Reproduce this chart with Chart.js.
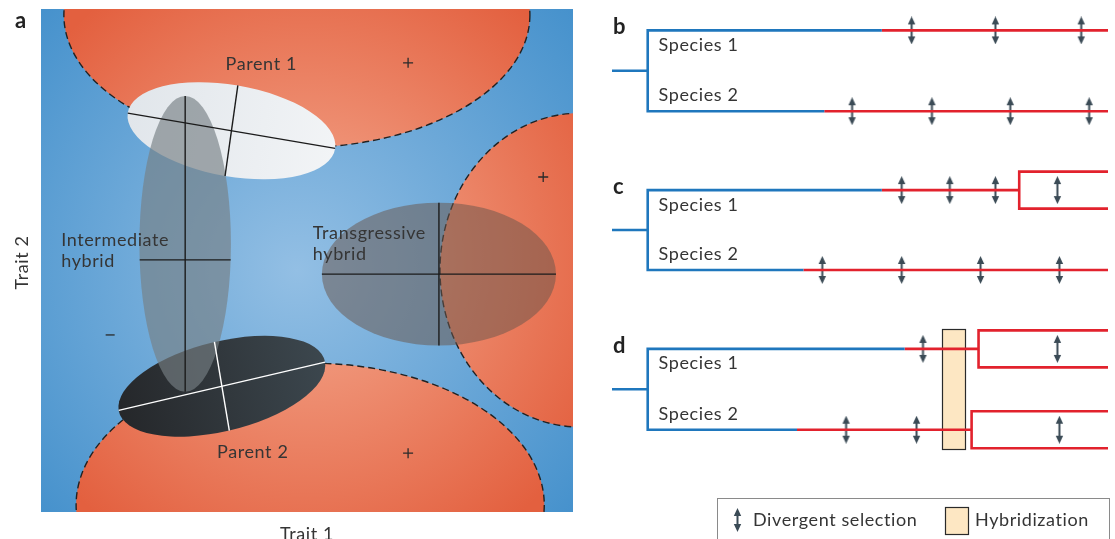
<!DOCTYPE html>
<html>
<head>
<meta charset="utf-8">
<script src="https://cdn.jsdelivr.net/npm/chart.js@4.4.1/dist/chart.umd.min.js"></script>
<style>
body { margin: 0; background: #fff; }
#wrap { position: relative; width: 1115px; height: 539px; overflow: hidden; }
#panelA { position: absolute; left: 0; top: 0; }
#panelTree { position: absolute; left: 590px; top: 0; }
</style>
</head>
<body>
<div id="wrap">
  <canvas id="panelA" width="590" height="539"></canvas>
  <canvas id="panelTree" width="525" height="539"></canvas>
</div>
<script>
// --- 1. panel a data (trait space, both axes 0-100) ---
const peakCentres = [[48.1, 98.8], [101.3, 48.1], [50.6, 1.4]];
const peakRadii   = [[43.8, 26.4], [26.3, 31.2], [44.0, 28.2]];
const peakMarks   = [[69.0, 89.3], [94.4, 66.6], [69.0, 11.7]];
const valleyMarks = [[13.0, 35.2]];

// phenotype clouds: centre, two semi-axes, shift of the cross along axis U
const groupCentres    = [[35.8, 75.8], [34.0, 25.0], [27.1, 53.3], [74.8, 47.3]];
const groupAxisU      = [[19.5, -3.5], [19.4, 4.8], [0, 29.4], [22.0, 0]];
const groupAxisV      = [[1.2, 9.0], [-1.4, 8.8], [8.6, 0], [0, 14.2]];
const groupCrossShift = [0, 0, -0.108, 0];
const groupLabels     = [['Parent 1'], ['Parent 2'], ['Intermediate', 'hybrid'], ['Transgressive', 'hybrid']];
const groupLabelPos   = [[41.4, 87.9], [39.8, 10.7], [3.8, 52.9], [51.1, 54.3]];
const groupLabelAlign = ['center', 'center', 'left', 'left'];

// --- 2. panels b-d data (x: time 0-100, y: row position) ---
const panelLetters = ['b', 'c', 'd'];
const rowSp1     = [2.4, 18.8, 35.1];
const rowSp2     = [10.7, 27.0, 43.4];
const blueEndSp1 = [54.4, 54.4, 59.0];
const blueEndSp2 = [42.8, 38.6, 37.3];
const splitSp1   = [null, 82.1, 73.9];
const splitSp2   = [null, null, 72.5];
const selSp1 = [[60.4, 77.3, 94.6], [58.4, 68.1, 77.3, 89.8], [62.7, 89.8]];
const selSp2 = [[48.4, 64.5, 80.3, 96.2], [42.4, 58.4, 74.3, 90.2], [47.2, 61.4, 90.2]];
const hybridSpan = [null, null, [66.5, 71.1]];
const NODE_X = 7.2, TIP_X = 100, SPLIT_HALF = 1.9;

const FONT = 'Lato, "Open Sans", sans-serif';
const TEXT = '#353535';
const BLUE = '#1f77bd', RED = '#e2222d', ARROW = '#3b4b56', HYBRID = '#fde7c3';

function setText(ctx, size, bold) {
    ctx.font = (bold ? 'bold ' : '') + size + 'px ' + FONT;
    ctx.letterSpacing = bold ? '0px' : '0.6px';
}

// --- 3. panel a ---
function groupPath(ctx, i, px, py) {
    const c = groupCentres[i], u = groupAxisU[i], v = groupAxisV[i];
    const cx = px(c[0]), cy = py(c[1]);
    ctx.save();
    ctx.transform(px(c[0] + u[0]) - cx, py(c[1] + u[1]) - cy,
                  px(c[0] + v[0]) - cx, py(c[1] + v[1]) - cy, cx, cy);
    ctx.beginPath();
    ctx.arc(0, 0, 1, 0, Math.PI * 2);
    ctx.restore();
}

function crossLines(i) {
    const c = groupCentres[i], u = groupAxisU[i], v = groupAxisV[i];
    const s = groupCrossShift[i], h = Math.sqrt(1 - s * s);
    const along = (k) => ({ x: c[0] + u[0] * k, y: c[1] + u[1] * k });
    const mid = along(s);
    return [
        [along(-1), along(1)],
        [{ x: mid.x - v[0] * h, y: mid.y - v[1] * h }, { x: mid.x + v[0] * h, y: mid.y + v[1] * h }]
    ];
}

const traitPlugin = {
    id: 'traitSpace',
    beforeDatasetsDraw(chart) {
        const { ctx, chartArea: a, scales: { x, y } } = chart;
        const px = v => x.getPixelForValue(v), py = v => y.getPixelForValue(v);
        const mx = px(50), my = py(50);
        ctx.save();
        ctx.beginPath();
        ctx.rect(a.left, a.top, a.right - a.left, a.bottom - a.top);
        ctx.clip();

        const bg = ctx.createRadialGradient(mx - 10, my + 10, 0, mx, my, 370);
        bg.addColorStop(0, '#93bfe4');
        bg.addColorStop(1, '#4591cc');
        ctx.fillStyle = bg;
        ctx.fillRect(a.left, a.top, a.right - a.left, a.bottom - a.top);

        // fitness peaks
        peakCentres.forEach((c, i) => {
            const cx = px(c[0]), cy = py(c[1]);
            const rx = px(c[0] + peakRadii[i][0]) - cx, ry = cy - py(c[1] + peakRadii[i][1]);
            const rg = ctx.createRadialGradient(mx, my, 90, mx, my, 330);
            rg.addColorStop(0, '#f0977b');
            rg.addColorStop(1, '#e3603f');
            ctx.beginPath();
            ctx.ellipse(cx, cy, rx, ry, 0, 0, Math.PI * 2);
            ctx.fillStyle = rg;
            ctx.fill();
            ctx.setLineDash([7, 4]);
            ctx.lineWidth = 1.4;
            ctx.strokeStyle = '#222';
            ctx.stroke();
            ctx.setLineDash([]);
        });

        // phenotype clouds
        const fills = [
            ['#e1e6eb', '#f2f4f6'],
            ['#25272a', '#3c474e'],
            'rgba(118,128,132,0.65)',
            'rgba(105,86,76,0.52)'
        ];
        groupCentres.forEach((c, i) => {
            groupPath(ctx, i, px, py);
            let f = fills[i];
            if (Array.isArray(f)) {
                const u = groupAxisU[i];
                const g = ctx.createLinearGradient(px(c[0] - u[0]), py(c[1] - u[1]), px(c[0] + u[0]), py(c[1] + u[1]));
                g.addColorStop(0, f[0]);
                g.addColorStop(1, f[1]);
                f = g;
            }
            ctx.fillStyle = f;
            ctx.fill();
        });
        ctx.restore();
    },
    afterDatasetsDraw(chart) {
        const { ctx, chartArea: a, scales: { x, y } } = chart;
        ctx.save();
        ctx.fillStyle = TEXT;
        setText(ctx, 18);
        ctx.textBaseline = 'alphabetic';
        groupLabels.forEach((lines, i) => {
            ctx.textAlign = groupLabelAlign[i];
            lines.forEach((t, k) => {
                ctx.fillText(t, x.getPixelForValue(groupLabelPos[i][0]), y.getPixelForValue(groupLabelPos[i][1]) + k * 21);
            });
        });
        ctx.textAlign = 'center';
        ctx.fillText('Trait 1', (a.left + a.right) / 2, a.bottom + 28);
        ctx.save();
        ctx.translate(a.left - 19, (a.top + a.bottom) / 2 + 2);
        ctx.rotate(-Math.PI / 2);
        ctx.textBaseline = 'middle';
        ctx.fillText('Trait 2', 0, 0);
        ctx.restore();
        ctx.textAlign = 'left';
        setText(ctx, 22, true);
        ctx.fillStyle = '#222';
        ctx.fillText('a', a.left - 26, a.top + 19);
        ctx.restore();
    }
};

const crossSets = [];
groupCentres.forEach((c, i) => {
    crossLines(i).forEach(seg => {
        crossSets.push({
            data: seg, showLine: true, pointRadius: 0,
            borderColor: i === 1 ? '#ffffff' : '#1b1b1b', borderWidth: 1.4
        });
    });
});

new Chart(document.getElementById('panelA'), {
    type: 'scatter',
    data: {
        datasets: crossSets.concat([
            {
                data: peakMarks.map(p => ({ x: p[0], y: p[1] })),
                pointStyle: 'cross', pointRadius: 5, borderColor: '#2a2a2a', borderWidth: 1.3
            },
            {
                data: valleyMarks.map(p => ({ x: p[0], y: p[1] })),
                pointStyle: 'line', pointRadius: 4.5, borderColor: '#2a2a2a', borderWidth: 1.3
            }
        ])
    },
    options: {
        responsive: false,
        devicePixelRatio: 1,
        animation: false,
        layout: { padding: { left: 41, right: 17, top: 9, bottom: 27 } },
        plugins: { legend: { display: false }, tooltip: { enabled: false } },
        scales: {
            x: { display: false, min: 0, max: 100 },
            y: { display: false, min: 0, max: 100 }
        }
    },
    plugins: [traitPlugin]
});

// --- 4. panels b-d ---
function makeArrow(len) {
    const c = document.createElement('canvas');
    c.width = 11;
    c.height = len;
    const g = c.getContext('2d');
    g.fillStyle = ARROW;
    g.fillRect(4.5, 6, 2, len - 12);
    g.beginPath();
    g.moveTo(5.5, 0); g.lineTo(1.8, 8); g.lineTo(9.2, 8); g.closePath();
    g.moveTo(5.5, len); g.lineTo(1.8, len - 8); g.lineTo(9.2, len - 8); g.closePath();
    g.fill();
    return c;
}
const arrowImg = makeArrow(28);
const legendArrow = makeArrow(24);

function branch(points, colour) {
    return {
        data: points.map(p => ({ x: p[0], y: p[1] })),
        showLine: true, pointRadius: 0, borderColor: colour, borderWidth: 2.6,
        borderJoinStyle: 'miter', borderCapStyle: 'butt', clip: false
    };
}

function lineage(row, blueEnd, split) {
    if (split == null) return [branch([[blueEnd, row], [TIP_X, row]], RED)];
    return [
        branch([[blueEnd, row], [split, row]], RED),
        branch([[TIP_X, row - SPLIT_HALF], [split, row - SPLIT_HALF], [split, row + SPLIT_HALF], [TIP_X, row + SPLIT_HALF]], RED)
    ];
}

const treeSets = [];
panelLetters.forEach((p, i) => {
    const r1 = rowSp1[i], r2 = rowSp2[i], stem = (r1 + r2) / 2;
    treeSets.push(branch([[0, stem], [NODE_X, stem]], BLUE));
    treeSets.push(branch([[blueEndSp1[i], r1], [NODE_X, r1], [NODE_X, r2], [blueEndSp2[i], r2]], BLUE));
    treeSets.push(...lineage(r1, blueEndSp1[i], splitSp1[i]));
    treeSets.push(...lineage(r2, blueEndSp2[i], splitSp2[i]));
    treeSets.push({
        data: selSp1[i].map(v => ({ x: v, y: r1 })).concat(selSp2[i].map(v => ({ x: v, y: r2 }))),
        pointStyle: arrowImg, pointRadius: 6, clip: false
    });
});

const treePlugin = {
    id: 'treeExtras',
    beforeDatasetsDraw(chart) {
        const { ctx, scales: { x, y } } = chart;
        ctx.save();
        hybridSpan.forEach((s, i) => {
            if (!s) return;
            const l = Math.round(x.getPixelForValue(s[0])) + 0.5, r = Math.round(x.getPixelForValue(s[1])) + 0.5;
            const t = Math.round(y.getPixelForValue(rowSp1[i] - 2.0)) + 0.5, b = Math.round(y.getPixelForValue(rowSp2[i] + 2.0)) + 0.5;
            ctx.fillStyle = HYBRID;
            ctx.fillRect(l, t, r - l, b - t);
            ctx.strokeStyle = '#2a2a2a';
            ctx.lineWidth = 1.2;
            ctx.strokeRect(l, t, r - l, b - t);
        });
        ctx.restore();
    },
    afterDatasetsDraw(chart) {
        const { ctx, scales: { x, y } } = chart;
        ctx.save();
        panelLetters.forEach((p, i) => {
            ctx.fillStyle = '#222';
            setText(ctx, 22, true);
            ctx.textAlign = 'left';
            ctx.fillText(p, x.getPixelForValue(0.2), y.getPixelForValue(rowSp1[i] + 0.4));
            ctx.fillStyle = TEXT;
            setText(ctx, 18);
            ctx.fillText('Species 1', x.getPixelForValue(9.4), y.getPixelForValue(rowSp1[i] + 2.1));
            ctx.fillText('Species 2', x.getPixelForValue(9.4), y.getPixelForValue(rowSp2[i] - 1.0));
        });

        // legend box
        ctx.strokeStyle = '#8a8a8a';
        ctx.lineWidth = 1;
        ctx.strokeRect(127.5, 498.5, 392, 60);
        ctx.drawImage(legendArrow, 142, 508);
        ctx.fillStyle = TEXT;
        setText(ctx, 18);
        ctx.fillText('Divergent selection', 163, 526);
        ctx.fillStyle = HYBRID;
        ctx.fillRect(355.5, 507.5, 23, 27);
        ctx.strokeStyle = '#2a2a2a';
        ctx.lineWidth = 1.2;
        ctx.strokeRect(355.5, 507.5, 23, 27);
        ctx.fillStyle = TEXT;
        ctx.fillText('Hybridization', 385, 526);
        ctx.restore();
    }
};

new Chart(document.getElementById('panelTree'), {
    type: 'scatter',
    data: { datasets: treeSets },
    options: {
        responsive: false,
        devicePixelRatio: 1,
        animation: false,
        layout: { padding: { left: 22, right: 5, top: 0, bottom: 0 } },
        plugins: { legend: { display: false }, tooltip: { enabled: false } },
        scales: {
            x: { display: false, min: 0, max: 100 },
            y: { display: false, min: 0, max: 53.9, reverse: true }
        }
    },
    plugins: [treePlugin]
});
</script>
</body>
</html>
